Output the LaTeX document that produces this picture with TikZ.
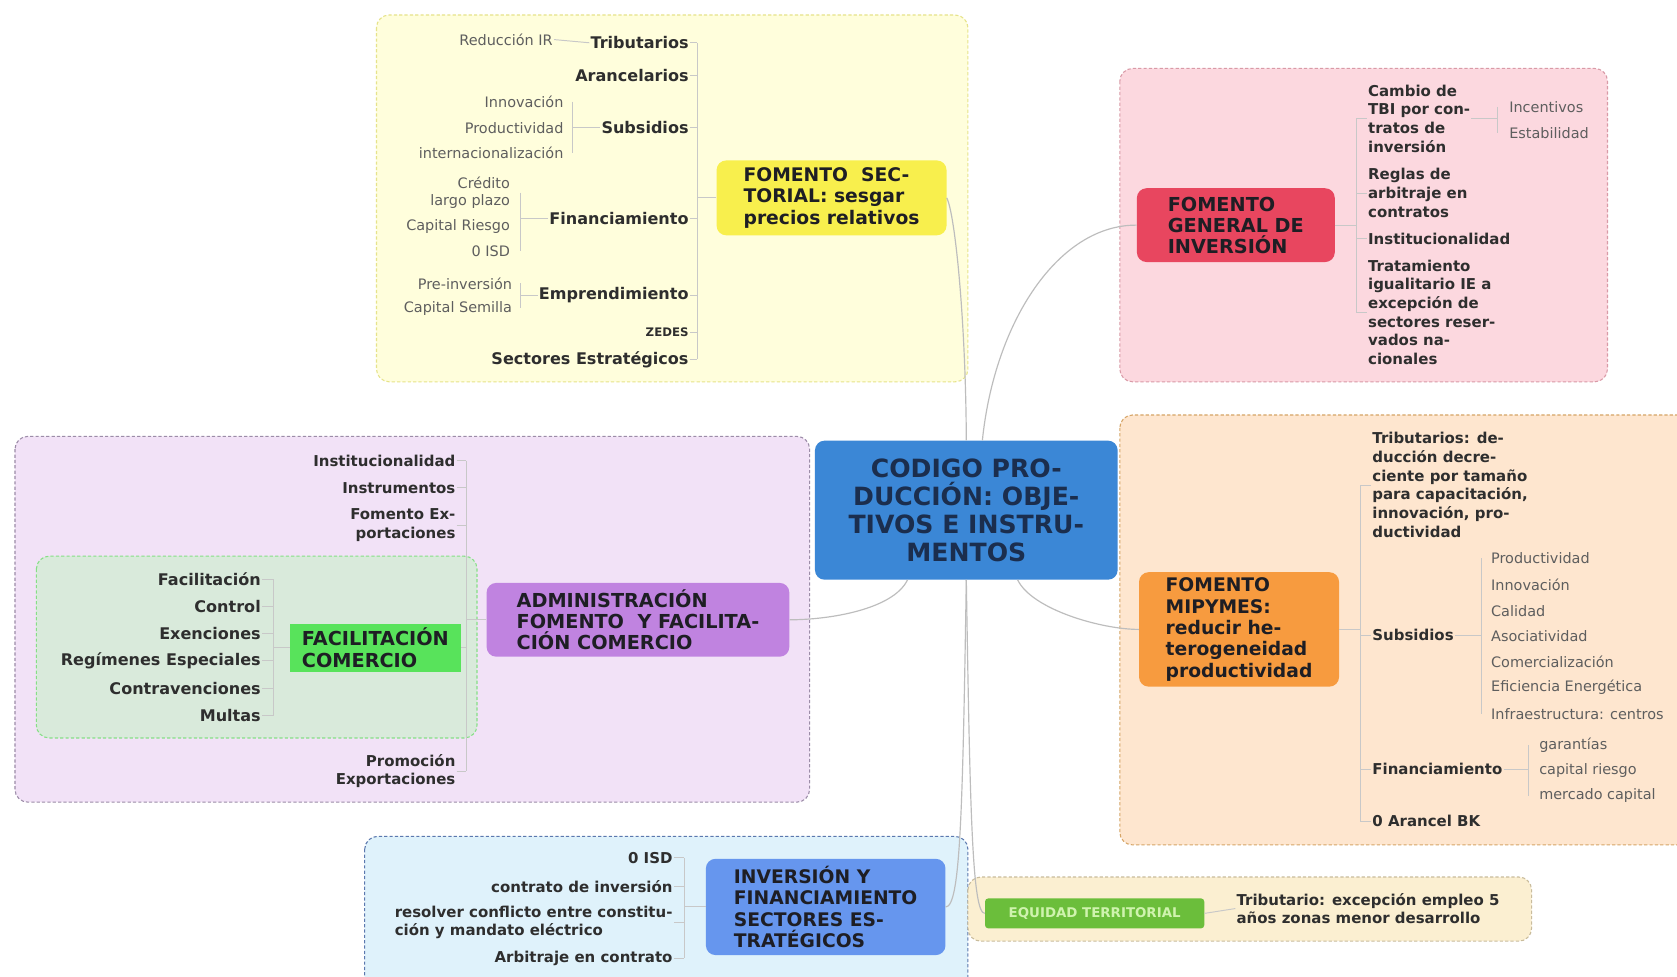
\documentclass[tikz,border=0pt]{standalone}
\usepackage{fontspec}
\setmainfont{DejaVu Sans}
\usetikzlibrary{calc}

\definecolor{linkgray}{HTML}{C8C8C8}
\definecolor{hubgray}{HTML}{BDBDBD}
\definecolor{kidtext}{HTML}{2E2E2E}
\definecolor{leaftext}{HTML}{5E5E5E}
\definecolor{topictext}{HTML}{1E1E24}
\definecolor{yelfill}{HTML}{FFFEDC}
\definecolor{yelline}{HTML}{E6E38A}
\definecolor{yelnode}{HTML}{F8EF4D}
\definecolor{pinkfill}{HTML}{FCD8DF}
\definecolor{pinkline}{HTML}{D99AA7}
\definecolor{rednode}{HTML}{E8465F}
\definecolor{purfill}{HTML}{F2E2F7}
\definecolor{purline}{HTML}{9C8CA8}
\definecolor{purnode}{HTML}{C083E0}
\definecolor{grnfill}{HTML}{D9EADB}
\definecolor{grnline}{HTML}{86DF86}
\definecolor{grnnode}{HTML}{58E35B}
\definecolor{ctrnode}{HTML}{3B87D6}
\definecolor{ctrtext}{HTML}{1B2E4E}
\definecolor{orgfill}{HTML}{FEE6CF}
\definecolor{orgline}{HTML}{D6A567}
\definecolor{orgnode}{HTML}{F79B3F}
\definecolor{bluefill}{HTML}{DFF2FB}
\definecolor{blueline}{HTML}{5B78AE}
\definecolor{bluenode}{HTML}{6696EE}
\definecolor{eqfill}{HTML}{FBEFD1}
\definecolor{eqline}{HTML}{C9BC9C}
\definecolor{eqnode}{HTML}{6BBE3B}
\definecolor{eqtext}{HTML}{CFF3AE}

\begin{document}
\begin{tikzpicture}[x=1pt,y=-1pt,
  group/.style={rounded corners=12, dash pattern=on 3pt off 2pt, line width=1},
  topic/.style={rounded corners=9, align=left, inner sep=0, text=topictext,
    font=\bfseries\fontsize{17.5}{20}\selectfont},
  kid/.style={inner sep=1, text=kidtext, font=\bfseries\fontsize{14}{17.5}\selectfont},
  bigkid/.style={inner sep=1, text=kidtext, font=\bfseries\fontsize{15}{18}\selectfont},
  leaf/.style={inner sep=1, text=leaftext, font=\fontsize{13.5}{16}\selectfont},
  link/.style={draw=linkgray, line width=0.9},
  hub/.style={draw=hubgray, line width=1.1}
]
\useasboundingbox (0,0) rectangle (1568,913);
\fill[white] (0,0) rectangle (1568,913);

% ---------- group backgrounds ----------
\draw[group, fill=yelfill, draw=yelline] (352,14) rectangle (905,357);
\draw[group, fill=pinkfill, draw=pinkline] (1047,64) rectangle (1503,357);
\draw[group, fill=purfill, draw=purline] (14,408) rectangle (757,750);
\draw[group, fill=grnfill, draw=grnline] (34,520) rectangle (446,690);
\draw[group, fill=orgfill, draw=orgline] (1047,388) rectangle (1600,790);
\draw[group, fill=bluefill, draw=blueline] (341,782) rectangle (905,930);
\draw[group, fill=eqfill, draw=eqline] (905,820) rectangle (1432,880);

% ---------- central topic ----------
\node[topic, fill=ctrnode, text=ctrtext, align=center, minimum width=283, minimum height=130,
  font=\bfseries\fontsize{23.5}{26}\selectfont] (ctr) at (903.5,477)
  {CODIGO PRO-\\DUCCIÓN: OBJE-\\TIVOS E INSTRU-\\MENTOS};

% ---------- main topics ----------
\node[topic, fill=yelnode, minimum width=215, minimum height=70] (fs) at (777.5,185)
  {FOMENTO\ \ SEC-\\TORIAL: sesgar\\precios relativos};
\node[topic, fill=rednode, minimum width=185, minimum height=69,
  font=\bfseries\fontsize{18}{19.5}\selectfont] (fg) at (1155.5,210.5)
  {FOMENTO\\GENERAL DE\\INVERSIÓN};
\node[topic, fill=purnode, minimum width=283, minimum height=69,
  font=\bfseries\fontsize{18}{20}\selectfont] (adm) at (596.5,579.5)
  {ADMINISTRACIÓN\\FOMENTO\ \ Y FACILITA-\\CIÓN COMERCIO};
\node[topic, fill=orgnode, minimum width=187, minimum height=107] (mp) at (1158.5,588.5)
  {FOMENTO\\MIPYMES:\\reducir he-\\terogeneidad\\productividad};
\node[topic, fill=bluenode, minimum width=224, minimum height=90] (inv) at (772,848)
  {INVERSIÓN Y\\FINANCIAMIENTO\\SECTORES ES-\\TRATÉGICOS};
\node[topic, rounded corners=0, fill=grnnode, minimum width=160, minimum height=45,
  font=\bfseries\fontsize{18}{20}\selectfont] (fc) at (351,605.5)
  {FACILITACIÓN\\COMERCIO};
\node[topic, rounded corners=3, fill=eqnode, text=eqtext, minimum width=205, minimum height=28,
  font=\bfseries\fontsize{12.5}{14}\selectfont] (eq) at (1023.5,854)
  {EQUIDAD TERRITORIAL};

% ---------- connectors from the central topic ----------
\draw[hub] (ctr.north) .. controls (903,300) and (893,200) .. (fs.east);
\draw[hub] ([xshift=15]ctr.north) .. controls (930,300) and (990,210) .. (fg.west);
\draw[hub] ([xshift=-55]ctr.south) .. controls (835,570) and (775,579.5) .. (adm.east);
\draw[hub] ([xshift=48]ctr.south) .. controls (965,570) and (1030,588.5) .. (mp.west);
\draw[hub] (ctr.south) .. controls (900,760) and (898,848) .. (inv.east);
\draw[hub] (ctr.south) .. controls (907,760) and (909,854) .. (eq.west);

% ---------- FOMENTO SECTORIAL ----------
\node[bigkid, anchor=east] (y1) at (645,40) {Tributarios};
\node[bigkid, anchor=east] (y2) at (645,71) {Arancelarios};
\node[bigkid, anchor=east] (y3) at (645,119) {Subsidios};
\node[bigkid, anchor=east] (y4) at (645,204) {Financiamiento};
\node[bigkid, anchor=east] (y5) at (645,276) {Emprendimiento};
\node[kid, anchor=east, font=\bfseries\fontsize{11}{13}\selectfont] (y6) at (645,311) {ZEDES};
\node[bigkid, anchor=east] (y7) at (645,336) {Sectores Estratégicos};
\coordinate (ybus) at (652,185);
\draw[link] (fs.west) -- (ybus);
\draw[link] (ybus |- y1.east) -- (ybus |- y7.east);
\foreach \n in {y1,y2,y3,y4,y5,y6,y7} \draw[link] (\n.east) -- (ybus |- \n.east);

\node[leaf, anchor=east] (ya1) at (518,37) {Reducción IR};
\draw[link] (ya1.east) -- (y1.west);

\node[leaf, anchor=east] (yb1) at (528,95) {Innovación};
\node[leaf, anchor=east] (yb2) at (528,120) {Productividad};
\node[leaf, anchor=east] (yb3) at (528,143) {internacionalización};
\coordinate (ybb) at (535,119);
\draw[link] (y3.west) -- (ybb);
\draw[link] (ybb |- yb1.east) -- (ybb |- yb3.east);

\node[leaf, anchor=east, align=right] (yc1) at (478,180) {Crédito\\largo plazo};
\node[leaf, anchor=east] (yc2) at (478,212) {Capital Riesgo};
\node[leaf, anchor=east] (yc3) at (478,235) {0 ISD};
\coordinate (ycb) at (487,204);
\draw[link] (y4.west) -- (ycb);
\draw[link] (ycb |- yc1.east) -- (ycb |- yc3.east);

\node[leaf, anchor=east] (yd1) at (480,265) {Pre-inversión};
\node[leaf, anchor=east] (yd2) at (480,288) {Capital Semilla};
\coordinate (ydb) at (487,276);
\draw[link] (y5.west) -- (ydb);
\draw[link] (ydb |- yd1.east) -- (ydb |- yd2.east);

% ---------- FOMENTO GENERAL DE INVERSIÓN ----------
\node[kid, anchor=west, align=left] (p1) at (1278,111) {Cambio de\\TBI por con-\\tratos de\\inversión};
\node[kid, anchor=west, align=left] (p2) at (1278,180.5) {Reglas de\\arbitraje en\\contratos};
\node[kid, anchor=west] (p3) at (1278,223) {Institucionalidad};
\node[kid, anchor=west, align=left] (p4) at (1278,292) {Tratamiento\\igualitario IE a\\excepción de\\sectores reser-\\vados na-\\cionales};
\coordinate (pbus) at (1268,210.5);
\draw[link] (fg.east) -- (pbus);
\draw[link] (pbus |- p1.west) -- (pbus |- p4.west);
\foreach \n in {p1,p2,p3,p4} \draw[link] (\n.west) -- (pbus |- \n.west);

\node[leaf, anchor=west] (pa1) at (1410,100) {Incentivos};
\node[leaf, anchor=west] (pa2) at (1410,124) {Estabilidad};
\coordinate (pab) at (1400,111);
\draw[link] (p1.east) -- (pab);
\draw[link] (pab |- pa1.west) -- (pab |- pa2.west);

% ---------- ADMINISTRACIÓN ----------
\node[kid, anchor=east] (a1) at (427,431) {Institucionalidad};
\node[kid, anchor=east] (a2) at (427,456) {Instrumentos};
\node[kid, anchor=east, align=right] (a3) at (427,491) {Fomento Ex-\\portaciones};
\node[kid, anchor=east, align=right] (a5) at (427,721) {Promoción\\Exportaciones};
\coordinate (abus) at (436,579.5);
\draw[link] (adm.west) -- (abus);
\draw[link] (abus |- a1.east) -- (abus |- a5.east);
\foreach \n in {a1,a2,a3,a5} \draw[link] (\n.east) -- (abus |- \n.east);
\draw[link] (fc.east) -- (abus |- fc.east);

\node[bigkid, anchor=east] (f1) at (245,542) {Facilitación};
\node[bigkid, anchor=east] (f2) at (245,567) {Control};
\node[bigkid, anchor=east] (f3) at (245,592) {Exenciones};
\node[bigkid, anchor=east] (f4) at (245,618) {Regímenes Especiales};
\node[bigkid, anchor=east] (f5) at (245,644) {Contravenciones};
\node[bigkid, anchor=east] (f6) at (245,669) {Multas};
\coordinate (fbus) at (256,605.5);
\draw[link] (fc.west) -- (fbus);
\draw[link] (fbus |- f1.east) -- (fbus |- f6.east);
\foreach \n in {f1,f2,f3,f4,f5,f6} \draw[link] (\n.east) -- (fbus |- \n.east);

% ---------- FOMENTO MIPYMES ----------
\node[kid, anchor=west, align=left] (o1) at (1282,453.5) {Tributarios: de-\\ducción decre-\\ciente por tamaño\\para capacitación,\\innovación, pro-\\ductividad};
\node[kid, anchor=west] (o2) at (1282,594) {Subsidios};
\node[kid, anchor=west] (o3) at (1282,719) {Financiamiento};
\node[kid, anchor=west] (o4) at (1282,768) {0 Arancel BK};
\coordinate (obus) at (1272,588.5);
\draw[link] (mp.east) -- (obus);
\draw[link] (obus |- o1.west) -- (obus |- o4.west);
\foreach \n in {o1,o2,o3,o4} \draw[link] (\n.west) -- (obus |- \n.west);

\node[leaf, anchor=west] (s1) at (1393,522) {Productividad};
\node[leaf, anchor=west] (s2) at (1393,547) {Innovación};
\node[leaf, anchor=west] (s3) at (1393,571) {Calidad};
\node[leaf, anchor=west] (s4) at (1393,595) {Asociatividad};
\node[leaf, anchor=west] (s5) at (1393,619) {Comercialización};
\node[leaf, anchor=west] (s6) at (1393,643) {Eficiencia Energética};
\node[leaf, anchor=west] (s7) at (1393,668) {Infraestructura: centros};
\coordinate (sbus) at (1385,594);
\draw[link] (o2.east) -- (sbus);
\draw[link] (sbus |- s1.west) -- (sbus |- s7.west);

\node[leaf, anchor=west] (g1) at (1438,697) {garantías};
\node[leaf, anchor=west] (g2) at (1438,720) {capital riesgo};
\node[leaf, anchor=west] (g3) at (1438,744) {mercado capital};
\coordinate (gbus) at (1429,719);
\draw[link] (o3.east) -- (gbus);
\draw[link] (gbus |- g1.west) -- (gbus |- g3.west);

% ---------- INVERSIÓN Y FINANCIAMIENTO ----------
\node[kid, anchor=east] (i1) at (630,802) {0 ISD};
\node[kid, anchor=east] (i2) at (630,829) {contrato de inversión};
\node[kid, anchor=east, align=left] (i3) at (630,862.5) {resolver conflicto entre constitu-\\ción y mandato eléctrico};
\node[kid, anchor=east] (i4) at (630,896) {Arbitraje en contrato};
\coordinate (ibus) at (640,848);
\draw[link] (inv.west) -- (ibus);
\draw[link] (ibus |- i1.east) -- (ibus |- i4.east);
\foreach \n in {i1,i2,i3,i4} \draw[link] (\n.east) -- (ibus |- \n.east);

% ---------- EQUIDAD TERRITORIAL ----------
\node[kid, anchor=west, align=left] (e1) at (1155,849.5) {Tributario: excepción empleo 5\\años zonas menor desarrollo};
\draw[link] (eq.east) -- (e1.west);
\end{tikzpicture}
\end{document}
